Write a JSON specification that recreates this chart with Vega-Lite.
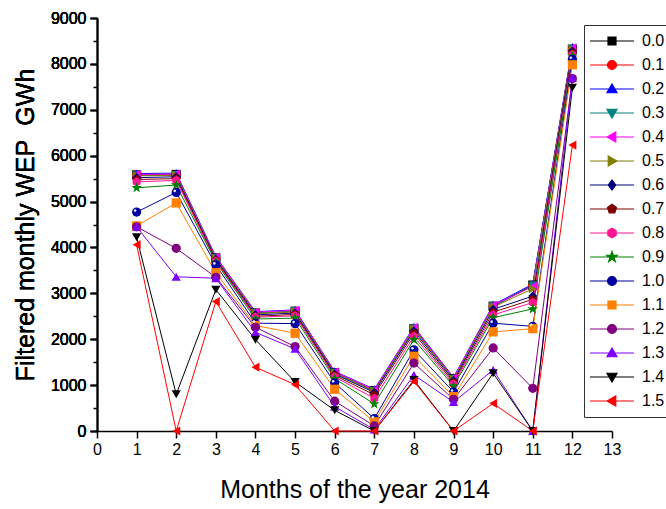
{
  "$schema": "https://vega.github.io/schema/vega-lite/v6.json",
  "width": 515,
  "height": 413,
  "autosize": "none",
  "padding": {"left": 97, "top": 18, "right": 54, "bottom": 78},
  "background": "white",
  "config": {
    "font": "Liberation Sans",
    "view": {"stroke": null},
    "axis": {
      "domainColor": "black", "domainWidth": 1.5, "tickColor": "black", "tickWidth": 1.5,
      "labelColor": "black", "labelFontSize": 16, "labelFont": "Liberation Sans",
      "titleColor": "black", "titleFontSize": 25, "titleFontWeight": "normal", "titleFont": "Liberation Sans",
      "grid": false
    },
    "legend": {
      "orient": "none", "legendX": 487, "legendY": 7,
      "strokeColor": "#333", "fillColor": "white", "padding": 8,
      "symbolOffset": 12, "labelOffset": 22, "symbolSize": 100, "symbolStrokeWidth": 1.2,
      "labelFontSize": 16, "labelFont": "Liberation Sans", "labelColor": "black",
      "rowPadding": 8, "symbolOpacity": 1
    }
  },
  "data": {"values": [
    {"p":"0.0","m":1,"v":5580},{"p":"0.0","m":2,"v":5590},{"p":"0.0","m":3,"v":3770},{"p":"0.0","m":4,"v":2570},{"p":"0.0","m":5,"v":2610},{"p":"0.0","m":6,"v":1270},{"p":"0.0","m":7,"v":880},{"p":"0.0","m":8,"v":2230},{"p":"0.0","m":9,"v":1140},{"p":"0.0","m":10,"v":2720},{"p":"0.0","m":11,"v":3180},{"p":"0.0","m":12,"v":8320},
    {"p":"0.1","m":1,"v":5570},{"p":"0.1","m":2,"v":5580},{"p":"0.1","m":3,"v":3760},{"p":"0.1","m":4,"v":2560},{"p":"0.1","m":5,"v":2600},{"p":"0.1","m":6,"v":1260},{"p":"0.1","m":7,"v":870},{"p":"0.1","m":8,"v":2220},{"p":"0.1","m":9,"v":1130},{"p":"0.1","m":10,"v":2710},{"p":"0.1","m":11,"v":3170},{"p":"0.1","m":12,"v":8310},
    {"p":"0.2","m":1,"v":5610},{"p":"0.2","m":2,"v":5620},{"p":"0.2","m":3,"v":3800},{"p":"0.2","m":4,"v":2600},{"p":"0.2","m":5,"v":2640},{"p":"0.2","m":6,"v":1300},{"p":"0.2","m":7,"v":910},{"p":"0.2","m":8,"v":2270},{"p":"0.2","m":9,"v":1170},{"p":"0.2","m":10,"v":2750},{"p":"0.2","m":11,"v":3200},{"p":"0.2","m":12,"v":8370},
    {"p":"0.3","m":1,"v":5570},{"p":"0.3","m":2,"v":5580},{"p":"0.3","m":3,"v":3770},{"p":"0.3","m":4,"v":2570},{"p":"0.3","m":5,"v":2610},{"p":"0.3","m":6,"v":1270},{"p":"0.3","m":7,"v":880},{"p":"0.3","m":8,"v":2240},{"p":"0.3","m":9,"v":1140},{"p":"0.3","m":10,"v":2720},{"p":"0.3","m":11,"v":3170},{"p":"0.3","m":12,"v":8330},
    {"p":"0.4","m":1,"v":5590},{"p":"0.4","m":2,"v":5600},{"p":"0.4","m":3,"v":3790},{"p":"0.4","m":4,"v":2590},{"p":"0.4","m":5,"v":2630},{"p":"0.4","m":6,"v":1290},{"p":"0.4","m":7,"v":900},{"p":"0.4","m":8,"v":2260},{"p":"0.4","m":9,"v":1160},{"p":"0.4","m":10,"v":2740},{"p":"0.4","m":11,"v":3150},{"p":"0.4","m":12,"v":8350},
    {"p":"0.5","m":1,"v":5560},{"p":"0.5","m":2,"v":5570},{"p":"0.5","m":3,"v":3760},{"p":"0.5","m":4,"v":2560},{"p":"0.5","m":5,"v":2600},{"p":"0.5","m":6,"v":1260},{"p":"0.5","m":7,"v":870},{"p":"0.5","m":8,"v":2220},{"p":"0.5","m":9,"v":1130},{"p":"0.5","m":10,"v":2700},{"p":"0.5","m":11,"v":3100},{"p":"0.5","m":12,"v":8310},
    {"p":"0.6","m":1,"v":5520},{"p":"0.6","m":2,"v":5540},{"p":"0.6","m":3,"v":3740},{"p":"0.6","m":4,"v":2530},{"p":"0.6","m":5,"v":2570},{"p":"0.6","m":6,"v":1240},{"p":"0.6","m":7,"v":840},{"p":"0.6","m":8,"v":2180},{"p":"0.6","m":9,"v":1100},{"p":"0.6","m":10,"v":2650},{"p":"0.6","m":11,"v":2940},{"p":"0.6","m":12,"v":8280},
    {"p":"0.7","m":1,"v":5480},{"p":"0.7","m":2,"v":5500},{"p":"0.7","m":3,"v":3720},{"p":"0.7","m":4,"v":2500},{"p":"0.7","m":5,"v":2540},{"p":"0.7","m":6,"v":1210},{"p":"0.7","m":7,"v":790},{"p":"0.7","m":8,"v":2130},{"p":"0.7","m":9,"v":1060},{"p":"0.7","m":10,"v":2590},{"p":"0.7","m":11,"v":2870},{"p":"0.7","m":12,"v":8240},
    {"p":"0.8","m":1,"v":5430},{"p":"0.8","m":2,"v":5460},{"p":"0.8","m":3,"v":3700},{"p":"0.8","m":4,"v":2480},{"p":"0.8","m":5,"v":2510},{"p":"0.8","m":6,"v":1180},{"p":"0.8","m":7,"v":710},{"p":"0.8","m":8,"v":2060},{"p":"0.8","m":9,"v":1020},{"p":"0.8","m":10,"v":2530},{"p":"0.8","m":11,"v":2800},{"p":"0.8","m":12,"v":8200},
    {"p":"0.9","m":1,"v":5300},{"p":"0.9","m":2,"v":5360},{"p":"0.9","m":3,"v":3680},{"p":"0.9","m":4,"v":2440},{"p":"0.9","m":5,"v":2460},{"p":"0.9","m":6,"v":1140},{"p":"0.9","m":7,"v":590},{"p":"0.9","m":8,"v":1990},{"p":"0.9","m":9,"v":980},{"p":"0.9","m":10,"v":2470},{"p":"0.9","m":11,"v":2660},{"p":"0.9","m":12,"v":8170},
    {"p":"1.0","m":1,"v":4770},{"p":"1.0","m":2,"v":5200},{"p":"1.0","m":3,"v":3620},{"p":"1.0","m":4,"v":2350},{"p":"1.0","m":5,"v":2340},{"p":"1.0","m":6,"v":1050},{"p":"1.0","m":7,"v":270},{"p":"1.0","m":8,"v":1770},{"p":"1.0","m":9,"v":850},{"p":"1.0","m":10,"v":2350},{"p":"1.0","m":11,"v":2280},{"p":"1.0","m":12,"v":8100},
    {"p":"1.1","m":1,"v":4470},{"p":"1.1","m":2,"v":4970},{"p":"1.1","m":3,"v":3450},{"p":"1.1","m":4,"v":2300},{"p":"1.1","m":5,"v":2130},{"p":"1.1","m":6,"v":910},{"p":"1.1","m":7,"v":200},{"p":"1.1","m":8,"v":1630},{"p":"1.1","m":9,"v":750},{"p":"1.1","m":10,"v":2160},{"p":"1.1","m":11,"v":2230},{"p":"1.1","m":12,"v":7980},
    {"p":"1.2","m":1,"v":4450},{"p":"1.2","m":2,"v":3980},{"p":"1.2","m":3,"v":3350},{"p":"1.2","m":4,"v":2260},{"p":"1.2","m":5,"v":1840},{"p":"1.2","m":6,"v":650},{"p":"1.2","m":7,"v":110},{"p":"1.2","m":8,"v":1480},{"p":"1.2","m":9,"v":690},{"p":"1.2","m":10,"v":1810},{"p":"1.2","m":11,"v":930},{"p":"1.2","m":12,"v":7680},
    {"p":"1.3","m":1,"v":4450},{"p":"1.3","m":2,"v":3360},{"p":"1.3","m":3,"v":3330},{"p":"1.3","m":4,"v":2150},{"p":"1.3","m":5,"v":1790},{"p":"1.3","m":6,"v":530},{"p":"1.3","m":7,"v":30},{"p":"1.3","m":8,"v":1220},{"p":"1.3","m":9,"v":630},{"p":"1.3","m":10,"v":1330},{"p":"1.3","m":11,"v":0},{"p":"1.3","m":12,"v":7700},
    {"p":"1.4","m":1,"v":4220},{"p":"1.4","m":2,"v":800},{"p":"1.4","m":3,"v":3080},{"p":"1.4","m":4,"v":1990},{"p":"1.4","m":5,"v":1070},{"p":"1.4","m":6,"v":450},{"p":"1.4","m":7,"v":0},{"p":"1.4","m":8,"v":1110},{"p":"1.4","m":9,"v":0},{"p":"1.4","m":10,"v":1260},{"p":"1.4","m":11,"v":0},{"p":"1.4","m":12,"v":7480},
    {"p":"1.5","m":1,"v":4060},{"p":"1.5","m":2,"v":0},{"p":"1.5","m":3,"v":2820},{"p":"1.5","m":4,"v":1390},{"p":"1.5","m":5,"v":1010},{"p":"1.5","m":6,"v":0},{"p":"1.5","m":7,"v":0},{"p":"1.5","m":8,"v":1080},{"p":"1.5","m":9,"v":0},{"p":"1.5","m":10,"v":600},{"p":"1.5","m":11,"v":0},{"p":"1.5","m":12,"v":6230}
  ]},
  "encoding": {
    "x": {"field": "m", "type": "quantitative", "scale": {"domain": [0, 13], "nice": false},
      "axis": {"values": [0,1,2,3,4,5,6,7,8,9,10,11,12,13], "tickSize": 7, "labelPadding": 3, "labelFlush": false, "title": "Months of the year 2014", "titlePadding": 20}},
    "y": {"field": "v", "type": "quantitative", "scale": {"domain": [0, 9000], "nice": false},
      "axis": {"values": [0,1000,2000,3000,4000,5000,6000,7000,8000,9000], "format": "d", "orient": "left", "tickSize": 7, "labelPadding": 4, "title": "Filtered monthly WEP\u00a0 GWh", "titlePadding": 12}}
  },
  "layer": [
    {
      "mark": {"type": "line", "strokeWidth": 1},
      "encoding": {
        "color": {"field": "p", "type": "nominal", "legend": null,
          "scale": {"domain": ["0.0","0.1","0.2","0.3","0.4","0.5","0.6","0.7","0.8","0.9","1.0","1.1","1.2","1.3","1.4","1.5"],
            "range": ["#000000","#FF0000","#0000FF","#008080","#FF00FF","#808000","#000080","#800000","#FF1493","#008000","#0000A0","#FF8000","#800080","#8000FF","#000000","#FF0000"]}}
      }
    },
    {
      "mark": {"type": "point", "filled": true, "size": 85, "opacity": 1},
      "encoding": {
        "color": {"field": "p", "type": "nominal", "legend": null,
          "scale": {"domain": ["0.0","0.1","0.2","0.3","0.4","0.5","0.6","0.7","0.8","0.9","1.0","1.1","1.2","1.3","1.4","1.5"],
            "range": ["#000000","#FF0000","#0000FF","#008080","#FF00FF","#808000","#000080","#800000","#FF1493","#008000","#0000A0","#FF8000","#800080","#8000FF","#000000","#FF0000"]}},
        "shape": {"field": "p", "type": "nominal", "legend": null,
          "scale": {"domain": ["0.0","0.1","0.2","0.3","0.4","0.5","0.6","0.7","0.8","0.9","1.0","1.1","1.2","1.3","1.4","1.5"],
            "range": ["square","circle","triangle-up","triangle-down","triangle-left","triangle-right","diamond",
              "M0,-1L0.951,-0.309L0.588,0.809L-0.588,0.809L-0.951,-0.309Z",
              "M0,-1L0.866,-0.5L0.866,0.5L0,1L-0.866,0.5L-0.866,-0.5Z",
              "M0,-1.2L0.28,-0.39L1.14,-0.37L0.46,0.15L0.71,0.97L0,0.48L-0.71,0.97L-0.46,0.15L-1.14,-0.37L-0.28,-0.39Z",
              "circle","square","circle","triangle-up","triangle-down","triangle-left"]}}
      }
    },
    {
      "transform": [{"filter": "datum.p == '1.0'"}],
      "mark": {"type": "point", "filled": true, "size": 7, "color": "white", "opacity": 0.9, "xOffset": -1.5, "yOffset": -1.5}
    },
    {
      "transform": [{"filter": "false"}],
      "mark": {"type": "point", "filled": true, "opacity": 1},
      "encoding": {
        "fill": {"field": "p", "type": "nominal", "title": null,
          "scale": {"domain": ["0.0","0.1","0.2","0.3","0.4","0.5","0.6","0.7","0.8","0.9","1.0","1.1","1.2","1.3","1.4","1.5"],
            "range": ["#000000","#FF0000","#0000FF","#008080","#FF00FF","#808000","#000080","#800000","#FF1493","#008000","#0000A0","#FF8000","#800080","#8000FF","#000000","#FF0000"]}},
        "stroke": {"field": "p", "type": "nominal", "title": null,
          "scale": {"domain": ["0.0","0.1","0.2","0.3","0.4","0.5","0.6","0.7","0.8","0.9","1.0","1.1","1.2","1.3","1.4","1.5"],
            "range": ["#000000","#FF0000","#0000FF","#008080","#FF00FF","#808000","#000080","#800000","#FF1493","#008000","#0000A0","#FF8000","#800080","#8000FF","#000000","#FF0000"]}},
        "shape": {"field": "p", "type": "nominal", "title": null,
          "scale": {"domain": ["0.0","0.1","0.2","0.3","0.4","0.5","0.6","0.7","0.8","0.9","1.0","1.1","1.2","1.3","1.4","1.5"],
            "range": [
              "M-4.4,0L4.4,0M-0.8,-0.8L0.8,-0.8L0.8,0.8L-0.8,0.8Z",
              "M-4.4,0L4.4,0M-0.9,0A0.9,0.9,0,1,0,0.9,0A0.9,0.9,0,1,0,-0.9,0Z",
              "M-4.4,0L4.4,0M0,-1L1,0.75L-1,0.75Z",
              "M-4.4,0L4.4,0M0,1L1,-0.75L-1,-0.75Z",
              "M-4.4,0L4.4,0M-1,0L0.75,-1L0.75,1Z",
              "M-4.4,0L4.4,0M1,0L-0.75,-1L-0.75,1Z",
              "M-4.4,0L4.4,0M0,-1L0.75,0L0,1L-0.75,0Z",
              "M-4.4,0L4.4,0M0,-0.95L0.9,-0.29L0.56,0.77L-0.56,0.77L-0.9,-0.29Z",
              "M-4.4,0L4.4,0M0,-0.95L0.82,-0.48L0.82,0.48L0,0.95L-0.82,0.48L-0.82,-0.48Z",
              "M-4.4,0L4.4,0M0,-1.1L0.26,-0.36L1.05,-0.34L0.42,0.14L0.65,0.89L0,0.44L-0.65,0.89L-0.42,0.14L-1.05,-0.34L-0.26,-0.36Z",
              "M-4.4,0L4.4,0M-0.9,0A0.9,0.9,0,1,0,0.9,0A0.9,0.9,0,1,0,-0.9,0Z",
              "M-4.4,0L4.4,0M-0.8,-0.8L0.8,-0.8L0.8,0.8L-0.8,0.8Z",
              "M-4.4,0L4.4,0M-0.9,0A0.9,0.9,0,1,0,0.9,0A0.9,0.9,0,1,0,-0.9,0Z",
              "M-4.4,0L4.4,0M0,-1L1,0.75L-1,0.75Z",
              "M-4.4,0L4.4,0M0,1L1,-0.75L-1,-0.75Z",
              "M-4.4,0L4.4,0M-1,0L0.75,-1L0.75,1Z"
            ]}}
      }
    },
    {
      "transform": [{"filter": "false"}],
      "mark": {"type": "tick", "opacity": 0},
      "encoding": {
        "y": {"field": "v", "type": "quantitative",
          "axis": {"values": [500,1500,2500,3500,4500,5500,6500,7500,8500], "orient": "left", "labels": false, "tickSize": 4, "domain": false, "title": null}}
      }
    }
  ],
  "resolve": {
    "scale": {"color": "independent", "shape": "independent", "fill": "independent", "stroke": "independent"},
    "axis": {"y": "independent"}
  }
}
